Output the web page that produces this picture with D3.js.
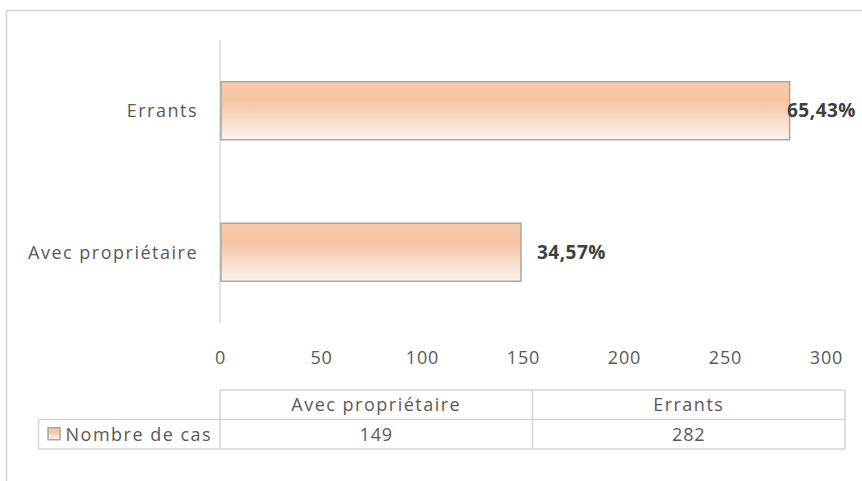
<!DOCTYPE html>
<html>
<head>
<meta charset="utf-8">
<script src="https://cdn.jsdelivr.net/npm/d3@7"></script>
<style>
  body { margin: 0; background: #fff; }
  text { font-family: "Open Sans", "Liberation Sans", sans-serif; letter-spacing: 1.5px; }
</style>
</head>
<body>
<div id="chart"></div>
<script>
// data
var categories = ['Avec propriétaire', 'Errants'];
var counts = [149, 282];
var percentLabels = ['34,57%', '65,43%'];
var seriesName = 'Nombre de cas';
var tickValues = [0, 50, 100, 150, 200, 250, 300];

var params = {
	width: 862,
	height: 481,
	plotLeft: 220,
	plotTop: 40,
	plotBottom: 323,
	axisRight: 826,
	tableRight: 845,
	tableTop: 390,
	rowHeight: 29.5,
	legendLeft: 38.5,
	fontSize: 18,
	textColor: '#595959'
};

var svg = d3.select('#chart').append('svg')
	.attr('width', params.width)
	.attr('height', params.height);

// bar gradient (orange fading to white)
var grad = svg.append('defs').append('linearGradient')
	.attr('id', 'barGrad')
	.attr('x1', 0).attr('y1', 0).attr('x2', 0).attr('y2', 1);
grad.append('stop').attr('offset', '0%').attr('stop-color', '#f7cdb0');
grad.append('stop').attr('offset', '30%').attr('stop-color', '#f5c3a0');
grad.append('stop').attr('offset', '100%').attr('stop-color', '#fdf3ee');

// outer chart frame (clipped right/bottom in the reference)
svg.append('rect')
	.attr('x', 6.5).attr('y', 10.5)
	.attr('width', params.width + 20).attr('height', params.height + 20)
	.attr('fill', 'none')
	.attr('stroke', '#d4d4d4')
	.attr('stroke-width', 1.5);

// scales
var x = d3.scaleLinear()
	.domain([0, 300])
	.range([params.plotLeft, params.axisRight]);

// Errants on top, Avec propriétaire below
var y = d3.scaleBand()
	.domain(categories.slice().reverse())
	.range([params.plotTop, params.plotBottom])
	.paddingInner(0.59)
	.paddingOuter(0.295);

// vertical axis line
svg.append('line')
	.attr('x1', x(0)).attr('x2', x(0))
	.attr('y1', params.plotTop).attr('y2', params.plotBottom)
	.attr('stroke', '#d9d9d9')
	.attr('stroke-width', 1.5);

// bars
svg.selectAll('rect.bar')
	.data(categories)
	.enter()
	.append('rect')
		.attr('class', 'bar')
		.attr('x', x(0) + 1)
		.attr('y', function(d) { return y(d); })
		.attr('width', function(d, i) { return x(counts[i]) - x(0) - 1; })
		.attr('height', y.bandwidth())
		.attr('fill', 'url(#barGrad)')
		.attr('stroke', '#a6a6a6')
		.attr('stroke-width', 1.5);

// percent labels, pushed back inside the chart when they would overflow
svg.selectAll('text.pct')
	.data(categories)
	.enter()
	.append('text')
		.attr('class', 'pct')
		.attr('y', function(d) { return y(d) + y.bandwidth() / 2; })
		.attr('dy', '0.35em')
		.attr('font-size', 19)
		.attr('font-weight', 'bold')
		.attr('fill', '#404040')
		.style('letter-spacing', '0.5px')
		.text(function(d, i) { return percentLabels[i]; })
		.attr('x', function(d, i) {
			var w = this.getComputedTextLength();
			return Math.min(x(counts[i]) + 16, params.width - 6 - w);
		});

// category labels
svg.selectAll('text.cat')
	.data(categories)
	.enter()
	.append('text')
		.attr('class', 'cat')
		.attr('x', x(0) - 22)
		.attr('y', function(d) { return y(d) + y.bandwidth() / 2; })
		.attr('dy', '0.35em')
		.attr('text-anchor', 'end')
		.attr('font-size', params.fontSize)
		.attr('fill', params.textColor)
		.text(function(d) { return d; });

// x axis tick labels (no axis line)
var xAxis = svg.append('g')
	.attr('transform', 'translate(0,' + (params.plotBottom + 28) + ')')
	.call(d3.axisBottom(x).tickValues(tickValues).tickSize(0).tickPadding(0));
xAxis.select('.domain').remove();
xAxis.selectAll('text')
	.attr('font-size', params.fontSize)
	.attr('fill', params.textColor)
	.style('font-family', '"Open Sans", "Liberation Sans", sans-serif')
	.style('letter-spacing', '0.8px');

// data table
var colX = d3.scaleBand()
	.domain(categories)
	.range([params.plotLeft, params.tableRight]);

var table = svg.append('g').attr('class', 'table');
var lineColor = '#d4d4d4';
var r0 = params.tableTop, r1 = r0 + params.rowHeight, r2 = r1 + params.rowHeight;

function hline(x1, x2, yy) {
	table.append('line').attr('x1', x1).attr('x2', x2).attr('y1', yy).attr('y2', yy)
		.attr('stroke', lineColor).attr('stroke-width', 1.5);
}
function vline(xx, y1, y2) {
	table.append('line').attr('x1', xx).attr('x2', xx).attr('y1', y1).attr('y2', y2)
		.attr('stroke', lineColor).attr('stroke-width', 1.5);
}
hline(params.plotLeft, params.tableRight, r0);
hline(params.legendLeft, params.tableRight, r1);
hline(params.legendLeft, params.tableRight, r2);
vline(params.legendLeft, r1, r2);
vline(params.plotLeft, r0, r2);
categories.forEach(function(c) { vline(colX(c) + colX.bandwidth(), r0, r2); });

// header row
table.selectAll('text.head')
	.data(categories)
	.enter()
	.append('text')
		.attr('x', function(d) { return colX(d) + colX.bandwidth() / 2; })
		.attr('y', (r0 + r1) / 2)
		.attr('dy', '0.35em')
		.attr('text-anchor', 'middle')
		.attr('font-size', params.fontSize)
		.attr('fill', params.textColor)
		.text(function(d) { return d; });

// values row
table.selectAll('text.val')
	.data(categories)
	.enter()
	.append('text')
		.attr('x', function(d) { return colX(d) + colX.bandwidth() / 2; })
		.attr('y', (r1 + r2) / 2)
		.attr('dy', '0.35em')
		.attr('text-anchor', 'middle')
		.attr('font-size', params.fontSize)
		.attr('fill', params.textColor)
		.style('letter-spacing', '0.8px')
		.text(function(d, i) { return counts[i]; });

// legend key + series name
table.append('rect')
	.attr('x', params.legendLeft + 9.5).attr('y', (r1 + r2) / 2 - 6.5)
	.attr('width', 12).attr('height', 12)
	.attr('fill', 'url(#barGrad)')
	.attr('stroke', '#a6a6a6')
	.attr('stroke-width', 1.5);
table.append('text')
	.attr('x', params.legendLeft + 27)
	.attr('y', (r1 + r2) / 2)
	.attr('dy', '0.35em')
	.attr('font-size', params.fontSize)
	.attr('fill', params.textColor)
	.style('letter-spacing', '1.5px')
	.text(seriesName);
</script>
</body>
</html>
